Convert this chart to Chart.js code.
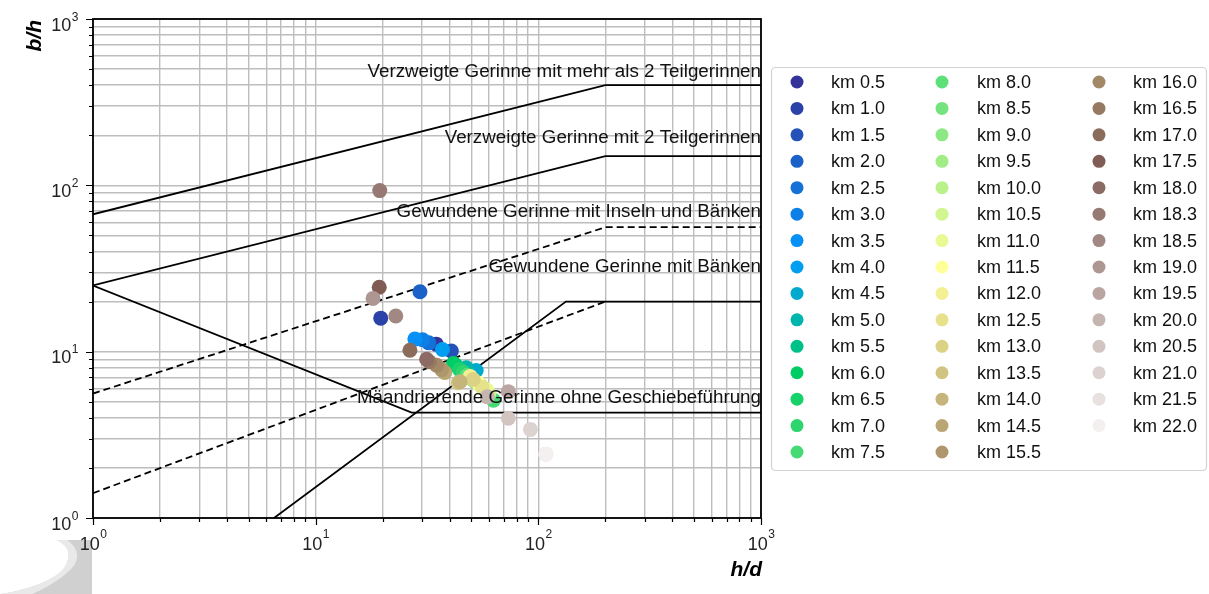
<!DOCTYPE html>
<html>
<head>
<meta charset="utf-8">
<script src="https://cdn.jsdelivr.net/npm/chart.js@4.4.0/dist/chart.umd.min.js"></script>
<style>
  html, body { margin: 0; padding: 0; background: #fff; }
  #wrap { width: 1209px; height: 594px; position: relative; }
</style>
</head>
<body>
<div id="wrap"><canvas id="chart" width="1209" height="594"></canvas></div>
<script>
// Stations along the river and their measured ratios (h/d, b/h)
const kmLabels = [
  "km 0.5", "km 1.0", "km 1.5", "km 2.0", "km 2.5", "km 3.0", "km 3.5", "km 4.0",
  "km 4.5", "km 5.0", "km 5.5", "km 6.0", "km 6.5", "km 7.0", "km 7.5",
  "km 8.0", "km 8.5", "km 9.0", "km 9.5", "km 10.0", "km 10.5", "km 11.0",
  "km 11.5", "km 12.0", "km 12.5", "km 13.0", "km 13.5", "km 14.0", "km 14.5",
  "km 15.5", "km 16.0", "km 16.5", "km 17.0", "km 17.5", "km 18.0", "km 18.3",
  "km 18.5", "km 19.0", "km 19.5", "km 20.0", "km 20.5", "km 21.0", "km 21.5", "km 22.0"
];
const hdValues = [
  34.8, 19.6, 40.7, 29.4, 32.2, 30.2, 27.9, 37.1,
  52.6, 47.5, 42.5, 41.6, 44.3, 46.0, 62.9,
  48.0, 50.0, 52.0, 55.0, 57.0, 60.0, 58.6,
  53.9, 49.4, 56.0, 51.0, 43.7, 44.5, 38.0,
  36.8, 34.9, 32.4, 26.5, 19.3, 31.5, 19.4,
  22.9, 18.1, 73.3, 59.0, 73.3, 92.2, 107.9, 108.5
];
const bhValues = [
  11.1, 15.9, 10.1, 22.9, 11.3, 11.8, 11.9, 10.3,
  7.7, 8.0, 8.3, 8.5, 7.8, 7.5, 5.1,
  7.2, 6.9, 6.6, 6.3, 6.0, 5.6, 5.9,
  6.45, 7.1, 6.1, 6.8, 6.5, 6.6, 7.5,
  7.8, 8.3, 8.7, 10.2, 24.4, 9.0, 93,
  16.4, 20.9, 5.75, 5.35, 3.98, 3.41, 2.42, 2.42
];

// Boundary lines of the channel-type diagram
const bound1X = [1, 200, 1000], bound1Y = [67, 400, 400];
const bound2X = [1, 200, 1000], bound2Y = [25, 150, 150];
const bound3X = [1, 200, 1000], bound3Y = [5.6, 56, 56];       // dashed
const bound4X = [1, 200], bound4Y = [1.41, 20];               // dashed
const bound5X = [6.5, 133, 1000], bound5Y = [1, 20, 20];
const bound6X = [1, 27, 1000], bound6Y = [25, 4.3, 4.3];

// Region labels (right aligned at h/d = 1000)
const regionLabels = [
  "Verzweigte Gerinne mit mehr als 2 Teilgerinnen",
  "Verzweigte Gerinne mit 2 Teilgerinnen",
  "Gewundene Gerinne mit Inseln und Bänken",
  "Gewundene Gerinne mit Bänken",
  "Mäandrierende Gerinne ohne Geschiebeführung"
];
const regionLabelY = [449, 180, 64.6, 30.1, 4.91];

// Log grid values and labelled decades
const gridValues = [1, 2, 3, 4, 5, 6, 7, 8, 9, 10, 20, 30, 40, 50, 60, 70, 80, 90,
  100, 200, 300, 400, 500, 600, 700, 800, 900, 1000];
const decadeExps = [0, 1, 2, 3];

const FONT = '"Liberation Sans", Arial, sans-serif';

// matplotlib "terrain" colormap
function terrain(t) {
  const stops = [
    [0.00, 0.2, 0.2, 0.6],
    [0.15, 0.0, 0.6, 1.0],
    [0.25, 0.0, 0.8, 0.4],
    [0.50, 1.0, 1.0, 0.6],
    [0.75, 0.5, 0.36, 0.33],
    [1.00, 1.0, 1.0, 1.0]
  ];
  for (let i = 1; i < stops.length; i++) {
    if (t <= stops[i][0]) {
      const a = stops[i - 1], b = stops[i];
      const f = (t - a[0]) / (b[0] - a[0]);
      const c = [1, 2, 3].map((k) => Math.round(255 * (a[k] + (b[k] - a[k]) * f)));
      return `rgb(${c[0]},${c[1]},${c[2]})`;
    }
  }
  return "rgb(255,255,255)";
}
const pointColors = kmLabels.map((_, i) => terrain(i / kmLabels.length));

const zip = (xs, ys) => xs.map((x, i) => ({ x, y: ys[i] }));

function boundary(xs, ys, dashed) {
  return {
    type: "scatter",
    data: zip(xs, ys),
    showLine: true,
    borderColor: "#000",
    borderWidth: 1.8,
    borderDash: dashed ? [7, 4] : [],
    pointRadius: 0,
    order: 2,
  };
}

const decor = {
  id: "decor",
  afterDatasetsDraw(chart) {
    const { ctx, chartArea: a, scales: { x, y } } = chart;
    ctx.save();

    // region labels
    ctx.fillStyle = "#111";
    ctx.font = `18.8px ${FONT}`;
    ctx.textAlign = "right";
    ctx.textBaseline = "alphabetic";
    regionLabels.forEach((t, i) => {
      ctx.fillText(t, x.getPixelForValue(1000), y.getPixelForValue(regionLabelY[i]));
    });

    // frame
    ctx.strokeStyle = "#000";
    ctx.lineWidth = 1.8;
    ctx.strokeRect(a.left, a.top, a.right - a.left, a.bottom - a.top);

    // tick marks
    ctx.lineWidth = 1.2;
    ctx.beginPath();
    gridValues.forEach((v) => {
      const major = Number.isInteger(Math.log10(v));
      const len = major ? 7 : 4;
      const px = Math.round(x.getPixelForValue(v)) + 0.5;
      ctx.moveTo(px, a.bottom);
      ctx.lineTo(px, a.bottom + len);
      const py = Math.round(y.getPixelForValue(v)) + 0.5;
      ctx.moveTo(a.left, py);
      ctx.lineTo(a.left - len, py);
    });
    ctx.stroke();

    // faint logo fragment bottom-left
    ctx.fillStyle = "#d0d0d0";
    ctx.beginPath();
    ctx.moveTo(57, 540);
    ctx.lineTo(92, 540);
    ctx.lineTo(92, 594);
    ctx.lineTo(0, 594);
    ctx.bezierCurveTo(30, 590, 60, 578, 66, 565);
    ctx.bezierCurveTo(72, 553, 68, 546, 57, 540);
    ctx.fill();
    ctx.fillStyle = "#e9e9e9";
    ctx.beginPath();
    ctx.moveTo(57, 540);
    ctx.bezierCurveTo(68, 546, 72, 553, 66, 565);
    ctx.bezierCurveTo(60, 578, 30, 590, 0, 594);
    ctx.lineTo(32, 594);
    ctx.bezierCurveTo(42, 590, 60, 580, 70, 570);
    ctx.bezierCurveTo(80, 561, 80, 549, 67, 540);
    ctx.closePath();
    ctx.fill();

    // decade labels 10^n
    ctx.fillStyle = "#222";
    decadeExps.forEach((e) => {
      const v = Math.pow(10, e);
      ctx.font = `18px ${FONT}`;
      const wBase = ctx.measureText("10").width;
      ctx.font = `12px ${FONT}`;
      const wExp = ctx.measureText(String(e)).width;
      ctx.textAlign = "left";
      // x axis
      const cx = x.getPixelForValue(v);
      let lx = cx - (wBase + wExp) / 2;
      ctx.font = `18px ${FONT}`;
      ctx.fillText("10", lx, 550);
      ctx.font = `12px ${FONT}`;
      ctx.fillText(String(e), lx + wBase + 0.5, 538);
      // y axis
      const cy = y.getPixelForValue(v);
      lx = 78 - (wBase + wExp);
      ctx.font = `18px ${FONT}`;
      ctx.fillText("10", lx, cy + 11.5);
      ctx.font = `12px ${FONT}`;
      ctx.fillText(String(e), lx + wBase + 0.5, cy + 1.5);
    });

    // axis titles
    ctx.fillStyle = "#000";
    ctx.font = `italic bold 21px ${FONT}`;
    ctx.textAlign = "right";
    ctx.fillText("h/d", 762, 576);
    ctx.save();
    ctx.translate(41, 20);
    ctx.rotate(-Math.PI / 2);
    ctx.fillText("b/h", 0, 0);
    ctx.restore();

    // legend
    const lx0 = 771, ly0 = 67, lw = 435, lh = 403;
    ctx.fillStyle = "#fff";
    ctx.strokeStyle = "#d2d2d2";
    ctx.lineWidth = 1.2;
    ctx.beginPath();
    ctx.roundRect(lx0 + 0.5, ly0 + 0.5, lw, lh, 4);
    ctx.fill();
    ctx.stroke();
    const colMarker = [797, 942, 1099];
    const colText = [831, 977, 1133];
    const rows = 15, rowH = 26.43;
    ctx.font = `18px ${FONT}`;
    ctx.textAlign = "left";
    ctx.textBaseline = "middle";
    kmLabels.forEach((lab, i) => {
      const c = Math.floor(i / rows), r = i % rows;
      const yy = 82 + r * rowH;
      ctx.fillStyle = pointColors[i];
      ctx.beginPath();
      ctx.arc(colMarker[c], yy, 6.5, 0, Math.PI * 2);
      ctx.fill();
      ctx.fillStyle = "#111";
      ctx.fillText(lab, colText[c], yy + 1);
    });

    ctx.restore();
  },
};

const logAxis = {
  type: "logarithmic",
  min: 1,
  max: 1000,
  afterBuildTicks: (axis) => {
    axis.ticks = gridValues.map((v) => ({ value: v, major: Number.isInteger(Math.log10(v)) }));
  },
  ticks: { display: false },
  grid: { color: "#bdbdbd", lineWidth: 1.4, drawTicks: false },
  border: { display: false },
};

new Chart(document.getElementById("chart"), {
  type: "scatter",
  data: {
    datasets: [
      boundary(bound1X, bound1Y, false),
      boundary(bound2X, bound2Y, false),
      boundary(bound3X, bound3Y, true),
      boundary(bound4X, bound4Y, true),
      boundary(bound5X, bound5Y, false),
      boundary(bound6X, bound6Y, false),
      {
        data: zip(hdValues, bhValues),
        backgroundColor: pointColors,
        borderWidth: 0,
        pointRadius: 7.5,
        pointHoverRadius: 7.5,
        order: 1,
      },
    ],
  },
  options: {
    responsive: false,
    animation: false,
    devicePixelRatio: 1,
    layout: { padding: { left: 93, right: 448, top: 19, bottom: 76 } },
    plugins: { legend: { display: false }, tooltip: { enabled: false } },
    scales: { x: { ...logAxis }, y: { ...logAxis } },
  },
  plugins: [decor],
});
</script>
</body>
</html>
